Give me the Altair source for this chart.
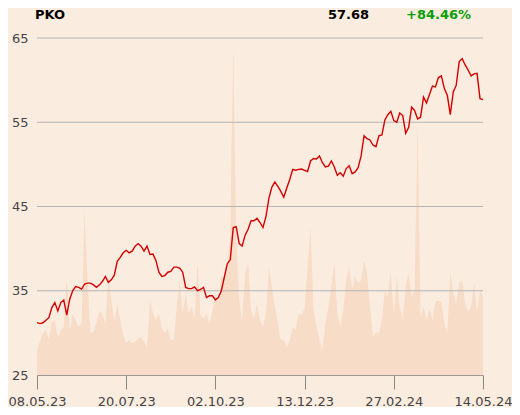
import altair as alt
import pandas as pd

ticker = "PKO"
last_price = "57.68"
change = "+84.46%"

prices = [
    31.21, 31.1, 31.2, 31.5, 31.8, 33.0, 33.6, 32.6, 33.6, 33.9,
    32.1, 34.0, 35.0, 35.5, 35.4, 35.2, 35.8, 35.9, 35.9, 35.7,
    35.4, 35.7, 36.1, 36.7, 36.0, 36.3, 36.85, 38.5, 38.97, 39.5,
    39.8, 39.5, 39.7, 40.3, 40.6, 40.3, 39.7, 40.3, 39.3, 39.35,
    38.6, 37.2, 36.7, 36.8, 37.2, 37.3, 37.8, 37.8, 37.7, 37.2,
    35.4, 35.25, 35.25, 35.45, 35.0, 35.15, 35.4, 34.2, 34.4, 34.4,
    33.9, 34.2, 35.0, 36.6, 38.2, 38.7, 42.5, 42.6, 40.6, 40.3,
    41.6, 42.3, 43.3, 43.3, 43.6, 43.1, 42.5, 43.8, 46.0, 47.3,
    47.9, 47.4, 46.8, 46.1, 47.2, 48.2, 49.4, 49.3, 49.4, 49.45,
    49.3, 49.15, 50.4, 50.7, 50.65, 51.0, 50.2, 49.7, 49.8, 50.4,
    49.7, 48.7, 49.0, 48.6, 49.5, 49.85, 48.9, 49.1, 49.6, 51.0,
    53.4, 53.05, 52.9, 52.3, 52.1, 53.4, 53.5, 55.27, 55.9, 56.3,
    55.2, 55.0, 56.1, 55.8, 53.7, 54.4, 56.8, 56.4, 55.4, 55.6,
    58.0, 57.3, 58.3, 59.3, 59.2, 60.3, 60.5, 59.0, 58.2, 55.9,
    58.6, 59.4, 62.2, 62.55, 61.8, 61.2, 60.5, 60.75, 60.8, 57.8,
    57.68,
]

volumes = [
    3.0, 4.0, 4.95, 5.3, 4.15, 6.3, 6.5, 4.55, 5.3, 5.7,
    11.5, 5.3, 7.3, 6.5, 5.7, 6.1, 19.5, 11.0, 4.95, 5.1,
    6.3, 7.6, 7.3, 5.9, 11.7, 8.9, 6.3, 8.5, 6.5, 4.75,
    3.8, 4.15, 3.75, 3.95, 4.35, 4.55, 3.95, 3.2, 8.9, 7.3,
    6.5, 7.3, 5.5, 5.0, 5.5, 4.2, 4.2, 8.1, 11.3, 7.3,
    9.7, 7.3, 8.1, 6.5, 13.4, 7.1, 6.7, 7.3, 6.1, 7.5,
    9.7, 8.5, 11.7, 11.5, 12.5, 16.8, 39.0, 16.0, 8.9, 6.5,
    12.1, 13.2, 7.7, 6.7, 8.5, 6.5, 5.7, 7.3, 12.7, 10.5,
    8.1, 6.1, 4.15, 4.2, 3.2, 4.15, 5.7, 5.3, 7.3, 7.1,
    7.9, 13.0, 17.5, 7.7, 5.7, 4.15, 3.0, 6.1, 8.1, 10.5,
    13.2, 7.3, 5.7, 7.7, 11.3, 12.9, 10.1, 11.7, 10.9, 11.3,
    13.6, 12.1, 8.1, 4.55, 5.1, 4.95, 6.5, 10.1, 9.3, 12.1,
    7.1, 11.7, 8.1, 6.5, 10.5, 12.1, 9.3, 10.0, 30.0, 6.9,
    8.1, 6.5, 7.9, 6.5, 8.7, 8.8, 8.7, 6.1, 4.95, 12.1,
    9.7, 8.5, 10.9, 11.3, 8.5, 7.5, 8.1, 10.9, 7.3, 10.1,
    9.3,
]

tick_labels = ["08.05.23", "20.07.23", "02.10.23", "13.12.23", "27.02.24", "14.05.24"]
tick_positions = [0, 30, 60, 90, 120, 150]
y_ticks = [25, 35, 45, 55, 65]
grid_values = [35, 45, 55, 65]

FONT = "DejaVu Sans"
BG = "#fbece0"

df = pd.DataFrame({"i": list(range(len(prices))), "price": prices, "volume": volumes})

label_expr = "[" + ",".join("'" + t + "'" for t in tick_labels) + "][round(datum.value / 30)]"

x_enc = alt.X(
    "i:Q",
    scale=alt.Scale(domain=[0, len(prices) - 1], nice=False, zero=False),
    axis=alt.Axis(
        values=tick_positions, labelExpr=label_expr, title=None, grid=False,
        labelFlush=False, labelOverlap=False, tickSize=14, tickColor="#888888",
        domainColor="#999999", labelColor="#444444", labelFontSize=13,
        labelFont=FONT, labelPadding=6,
    ),
)

price_scale = alt.Scale(domain=[25, 65], nice=False, zero=False)

vol = alt.Chart(df).mark_area(color="#f7dcc8", interpolate="linear").encode(
    x=x_enc,
    y=alt.Y("volume:Q", scale=alt.Scale(domain=[0, 40], nice=False), axis=None),
)

grid = alt.Chart(pd.DataFrame({"g": grid_values})).mark_rule(
    color="#b5b5b5", strokeWidth=1
).encode(y=alt.Y("g:Q", scale=price_scale, axis=None))

line = alt.Chart(df).mark_line(color="#d40000", strokeWidth=1.4).encode(
    x=x_enc,
    y=alt.Y(
        "price:Q", scale=price_scale,
        axis=alt.Axis(
            values=y_ticks, title=None, grid=False, domain=False, ticks=False,
            labelPadding=9, labelColor="#444444", labelFontSize=13, labelFont=FONT,
        ),
    ),
)

def header(text, xpos, color):
    return alt.Chart(pd.DataFrame({"t": [text]})).mark_text(
        align="left", baseline="top", font=FONT, fontSize=13,
        fontWeight="bold", color=color,
    ).encode(text="t:N", x=alt.value(xpos), y=alt.value(-29))

chart = alt.layer(
    vol, grid, line,
    header(ticker, -2, "#000000"),
    header(last_price, 291, "#000000"),
    header(change, 369, "#0a9e0a"),
).resolve_scale(y="independent").properties(
    width=446, height=337,
    autosize=alt.AutoSizeParams(type="none"),
    padding={"left": 29, "top": 30, "right": 29, "bottom": 32},
    background=BG,
).configure_view(stroke=None)

chart.save("out.html", embed_options={"renderer": "svg", "actions": False})
